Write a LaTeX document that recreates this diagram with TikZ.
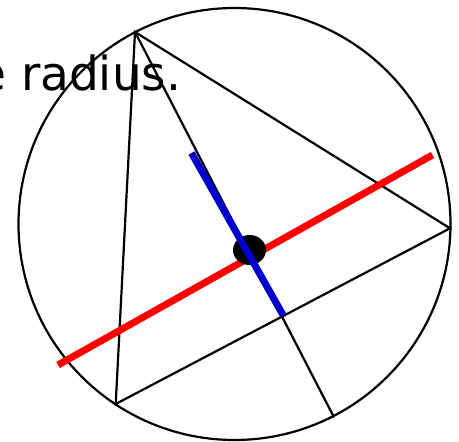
\documentclass[tikz,border=0pt]{standalone}
\usepackage{fontspec}
\setmainfont{DejaVu Sans}
\begin{document}
\begin{tikzpicture}[x=1pt,y=-1pt,
  edge/.style={draw=black,line width=2.2pt},
  redline/.style={draw=red,line width=7pt},
  blueline/.style={draw={rgb,255:red,0;green,0;blue,204},line width=7pt},
  caption/.style={anchor=base east,inner sep=0pt,font=\fontsize{47}{52}\selectfont}]
\useasboundingbox (0,0) rectangle (459,442);
\clip (0,0) rectangle (459,442);
\fill[white] (0,0) rectangle (459,442);
% points
\coordinate (O) at (234.5,224);
\coordinate (A) at (135,32);
\coordinate (B) at (450,228.3);
\coordinate (C) at (115.7,404);
\coordinate (D) at (334,417.3);
\coordinate (F) at (283.3,315.5);
\coordinate (P) at (191.5,153);
\coordinate (R1) at (58,365);
\coordinate (R2) at (432.5,155);
% text
\node[caption] (txt) at (181.5,90.7) {e radius.};
% circle and triangle
\draw[edge] (O) circle[radius=216pt];
\draw[edge,line join=miter] (A) -- (B) -- (C) -- cycle;
\draw[edge] (A) -- (D);
% red line
\draw[redline] (R1) -- (R2);
% dot
\fill[black] (249.5,250) ellipse[x radius=16.5pt,y radius=15pt];
\node[inner sep=0pt,minimum size=0pt] (dot) at (249.5,250) {};
% blue line
\draw[blueline] (P) -- (F);
\end{tikzpicture}
\end{document}
